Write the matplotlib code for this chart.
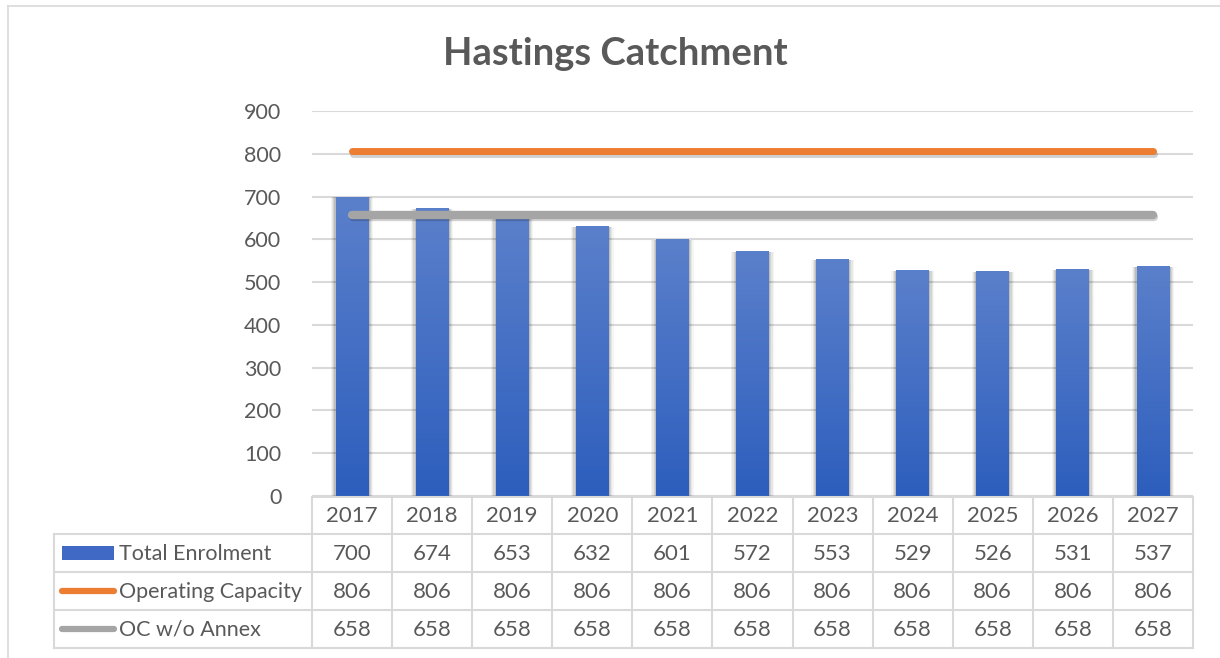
import numpy as np
import matplotlib
matplotlib.use("Agg")
import matplotlib.pyplot as plt
import matplotlib.patheffects as pe
from matplotlib.patches import Rectangle
from matplotlib.lines import Line2D

years = ['2017', '2018', '2019', '2020', '2021', '2022', '2023', '2024', '2025', '2026', '2027']
total_enrolment = [700, 674, 653, 632, 601, 572, 553, 529, 526, 531, 537]
operating_capacity = [806] * 11
oc_wo_annex = [658] * 11
series_names = ['Total Enrolment', 'Operating Capacity', 'OC w/o Annex']
y_ticks = [0, 100, 200, 300, 400, 500, 600, 700, 800, 900]

plt.rcParams['font.family'] = ['Lato', 'DejaVu Sans']
TXT = '#595959'
GRID = '#d9d9d9'
ORANGE = '#ED7D31'
GREY = '#A5A5A5'

W, H = 1220, 658
fig = plt.figure(figsize=(W / 100, H / 100), dpi=100)

# pixel helpers (origin top-left)
def fx(px):
    return px / W

def fy(py):
    return 1 - py / H

# outer chart frame
fig.add_artist(Line2D([fx(8), fx(8)], [fy(6), fy(658)], color=GRID, lw=1.2))
fig.add_artist(Line2D([fx(8), fx(1220)], [fy(6), fy(6)], color=GRID, lw=1.2))

fig.text(fx(615), fy(54), 'Hastings Catchment', ha='center', va='center',
         fontsize=27.5, fontweight='bold', color=TXT)

left, right, top, bottom = 312, 1193, 111, 496
ax = fig.add_axes([fx(left), fy(bottom), (right - left) / W, (bottom - top) / H])
n = len(years)
x = np.arange(n)
ax.set_xlim(-0.5, n - 0.5)
ax.set_ylim(0, 900)
ax.set_yticks(y_ticks)
ax.set_yticklabels([str(t) for t in y_ticks], fontsize=15.5, color=TXT)
ax.tick_params(axis='y', length=0, pad=22)
ax.set_xticks([])
for s in ax.spines.values():
    s.set_visible(False)
for t in y_ticks:
    ax.axhline(t, color=GRID, lw=1.5, zorder=0)

# bars with vertical gradient and a soft side shadow
bw = 0.41
grad = np.linspace(0, 1, 256).reshape(-1, 1)
cmap = matplotlib.colors.LinearSegmentedColormap.from_list('bar', ['#2D5EBD', '#5B80CB'])
for xi, v in zip(x, total_enrolment):
    for k, a in zip([0.06, 0.045, 0.03, 0.015], [0.04, 0.06, 0.08, 0.10]):
        ax.add_patch(Rectangle((xi - bw / 2 - k, 0), bw + 2 * k, v - 2, color='black',
                               alpha=a, lw=0, zorder=1))
    rect = Rectangle((xi - bw / 2, 0), bw, v, facecolor='none', edgecolor='none', zorder=2)
    ax.add_patch(rect)
    im = ax.imshow(grad, extent=(xi - bw / 2, xi + bw / 2, 0, v), origin='lower',
                   cmap=cmap, aspect='auto', zorder=2)
    im.set_clip_path(rect)

shadow = [pe.SimpleLineShadow(offset=(1, -2), shadow_color='black', alpha=0.18), pe.Normal()]
ax.plot(x, operating_capacity, color=ORANGE, lw=5, solid_capstyle='round', zorder=4,
        path_effects=shadow)
ax.plot(x, oc_wo_annex, color=GREY, lw=6, solid_capstyle='round', zorder=4,
        path_effects=shadow)

# data table under the plot
col_w = (right - left) / n
tbl_left = 54
rows_y = [497, 534, 572, 610, 648]
lw_t = 1.5

def hline(x0, x1, y):
    fig.add_artist(Line2D([fx(x0), fx(x1)], [fy(y), fy(y)], color=GRID, lw=lw_t))

def vline(x0, y0, y1):
    fig.add_artist(Line2D([fx(x0), fx(x0)], [fy(y0), fy(y1)], color=GRID, lw=lw_t))

hline(left, right, rows_y[0])
for y in rows_y[1:]:
    hline(tbl_left, right, y)
vline(tbl_left, rows_y[1], rows_y[-1])
for k in range(n + 1):
    vline(left + k * col_w, rows_y[0], rows_y[-1])

table_vals = [total_enrolment, operating_capacity, oc_wo_annex]
for k, yr in enumerate(years):
    cx = left + (k + 0.5) * col_w
    fig.text(fx(cx), fy((rows_y[0] + rows_y[1]) / 2 + 1), yr, ha='center', va='center',
             fontsize=16, color=TXT)
    for r, vals in enumerate(table_vals):
        cy = (rows_y[r + 1] + rows_y[r + 2]) / 2 + 1
        fig.text(fx(cx), fy(cy), str(vals[k]), ha='center', va='center', fontsize=16, color=TXT)

# legend keys in the row headers
for r, name in enumerate(series_names):
    cy = (rows_y[r + 1] + rows_y[r + 2]) / 2
    if r == 0:
        fig.add_artist(Rectangle((fx(62), fy(cy + 7)), (114 - 62) / W, 14 / H,
                                 facecolor='#3F69C4', edgecolor='none'))
    else:
        fig.add_artist(Line2D([fx(62), fx(114)], [fy(cy), fy(cy)],
                              color=ORANGE if r == 1 else GREY, lw=4.5,
                              solid_capstyle='round'))
    fig.text(fx(119), fy(cy + 1), name, ha='left', va='center', fontsize=15.5, color=TXT)

fig.savefig('out.png', dpi=100)
